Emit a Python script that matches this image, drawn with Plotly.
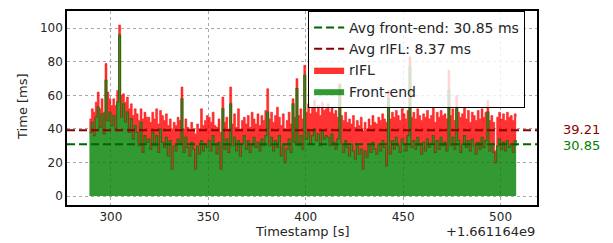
import plotly.graph_objects as go

# ---- data ----
TS_OFFSET_LABEL = "+1.661164e9"
T_START = 289  # seconds relative to offset, one sample per second
FRONTEND = [
    38, 44, 36, 47, 53, 41, 49, 37, 69, 45, 50, 42,
    48, 40, 56, 96, 47, 55, 44, 50, 38, 46, 34, 42, 38, 30, 44, 26, 36, 32,
    34, 28, 38, 30, 36, 26, 40, 32, 29, 35, 24, 33, 16, 30, 27, 34, 31, 58,
    26, 35, 29, 24, 32, 28, 16, 30, 25, 33, 27, 31, 29,
    33, 27, 36, 30, 25, 32, 16, 52, 28, 34, 26, 55, 30, 35, 27, 33, 24, 31,
    36, 28, 33, 26, 30, 35, 29, 32, 27, 34, 30, 36,
    50, 30, 35, 27, 33, 29, 36, 24, 31, 20, 28, 34, 26, 55, 32, 64, 30, 36,
    28, 72, 34, 38, 31, 36, 40, 33, 37, 30, 39, 34, 36,
    35, 30, 37, 32, 28, 34, 66, 31, 26, 33, 29, 24, 31, 27, 22, 30, 25, 28,
    16, 27, 23, 30, 26, 32, 28, 25, 31, 27, 33, 29,
    18, 58, 25, 33, 28, 35, 30, 26, 34, 31, 27, 36, 77, 29, 33, 28, 35, 30,
    25, 32, 27, 34, 29, 31, 36, 26, 33, 28, 35, 30,
    32, 27, 63, 30, 35, 28, 52, 33, 26, 31, 36, 29, 33, 27, 34, 30, 25, 32,
    28, 35, 29, 33, 50, 27, 31, 26, 20, 30, 34, 28, 32, 27, 33, 29, 31, 26,
    33, 30,
]
RIFL = [
    8, 8, 14, 9, 9, 11, 9, 13, 10, 17, 8, 12,
    10, 14, 7, 6, 13, 6, 12, 9, 14, 9, 14, 10, 11, 15, 8, 20, 14, 15,
    13, 16, 12, 16, 16, 17, 11, 16, 16, 14, 18, 13, 24, 14, 15, 13, 14, 7,
    14, 11, 12, 15, 12, 12, 21, 13, 15, 19, 15, 14, 19,
    14, 17, 14, 12, 16, 14, 22, 7, 16, 13, 14, 10, 13, 14, 14, 19, 16, 14,
    11, 15, 15, 15, 20, 11, 14, 17, 15, 14, 15, 15,
    14, 16, 15, 17, 15, 24, 11, 18, 18, 20, 17, 16, 17, 3, 15, 6, 18, 16,
    18, 6, 16, 17, 18, 17, 17, 17, 17, 18, 17, 17, 16,
    20, 20, 16, 17, 23, 13, 1, 17, 19, 17, 15, 22, 12, 21, 19, 15, 17, 19,
    23, 17, 17, 16, 16, 16, 16, 18, 16, 18, 16, 17,
    26, 5, 21, 17, 19, 16, 18, 19, 18, 18, 19, 15, 6, 18, 17, 18, 17, 18,
    20, 17, 20, 17, 17, 17, 17, 18, 17, 19, 16, 18,
    17, 19, 12, 18, 17, 17, 8, 17, 21, 18, 17, 17, 18, 17, 16, 18, 20, 19,
    18, 17, 18, 17, 7, 18, 17, 18, 7, 17, 16, 18, 17, 18, 17, 18, 17, 19,
    16, 17,
]
AVG_FRONTEND = 30.85
AVG_RIFL = 8.37
AVG_TOTAL = 39.21
X_RANGE = [277.5, 518.7]
Y_RANGE = [-5.3, 110.3]
Y_TICKS = [0, 20, 40, 60, 80, 100]
X_TICKS = [300, 350, 400, 450, 500]

n = min(len(FRONTEND), len(RIFL))
ts = [T_START + i for i in range(n)]
FRONTEND = FRONTEND[:n]
RIFL = RIFL[:n]

GREEN_FILL = "rgba(0,128,0,0.8)"
RED_FILL = "rgba(255,0,0,0.8)"
OLIVE = "rgba(45,95,0,0.85)"
TXT = "#262626"
FONT = "DejaVu Sans"

fig = go.Figure()
fig.add_trace(go.Scatter(
    x=ts, y=FRONTEND, stackgroup="s", name="Front-end", mode="lines",
    line=dict(color=GREEN_FILL, width=0, shape="hv"), fillcolor=GREEN_FILL,
    legendrank=4))
fig.add_trace(go.Scatter(
    x=ts, y=RIFL, stackgroup="s", name="rIFL", mode="lines",
    line=dict(color=RED_FILL, width=0.6, shape="hv"), fillcolor=RED_FILL,
    legendrank=3))
fig.add_trace(go.Scatter(
    x=ts, y=FRONTEND, mode="lines", showlegend=False, hoverinfo="skip",
    line=dict(color=OLIVE, width=1.2, shape="hv")))
fig.add_trace(go.Scatter(
    x=X_RANGE, y=[AVG_FRONTEND, AVG_FRONTEND], mode="lines",
    name=f"Avg front-end: {AVG_FRONTEND:.2f} ms",
    line=dict(color="#006400", width=2, dash="8px,4px"), legendrank=1))
fig.add_trace(go.Scatter(
    x=X_RANGE, y=[AVG_TOTAL, AVG_TOTAL], mode="lines",
    name=f"Avg rIFL: {AVG_RIFL:.2f} ms",
    line=dict(color="#8b0000", width=2, dash="8px,4px"), legendrank=2))

axis_common = dict(
    showgrid=True, gridcolor="#a8a8a8", griddash="3px,3px", gridwidth=1,
    showline=True, linecolor="black", linewidth=1.5, mirror=True,
    ticks="", zeroline=False,
    tickfont=dict(family=FONT, size=12, color=TXT),
)
fig.update_xaxes(range=X_RANGE, tickvals=X_TICKS, **axis_common)
fig.update_yaxes(range=Y_RANGE, tickvals=Y_TICKS, **axis_common)

# the page body has an 8px margin: figure is 605x235 so it fits the window
fig.update_layout(
    width=605, height=235,
    margin=dict(l=59, r=76, t=1, b=38),
    paper_bgcolor="white", plot_bgcolor="white",
    font=dict(family=FONT, size=12, color=TXT),
    showlegend=True,
    legend=dict(
        x=0.513, y=1.0, xanchor="left", yanchor="top",
        bgcolor="rgba(255,255,255,0.8)", bordercolor="black", borderwidth=1,
        font=dict(family=FONT, size=14, color=TXT),
        traceorder="normal", tracegroupgap=0, itemwidth=30,
    ),
    annotations=[
        dict(text="Timestamp [s]", xref="paper", yref="paper", x=0.5, y=-0.138,
             xanchor="center", yanchor="middle", showarrow=False,
             font=dict(family=FONT, size=13, color=TXT)),
        dict(text=TS_OFFSET_LABEL, xref="paper", yref="paper", x=1.0, y=-0.138,
             xanchor="right", yanchor="middle", showarrow=False,
             font=dict(family=FONT, size=13, color=TXT)),
        dict(text="Time [ms]", xref="paper", yref="paper", x=-0.096, y=0.51,
             xanchor="center", yanchor="middle", textangle=-90, showarrow=False,
             font=dict(family=FONT, size=13, color=TXT)),
        dict(text=f"{AVG_TOTAL:.2f}", xref="paper", yref="y", x=1.0, y=AVG_TOTAL,
             xshift=24, yshift=1, xanchor="left", yanchor="middle", showarrow=False,
             font=dict(family=FONT, size=13, color="#8b0000")),
        dict(text=f"{AVG_FRONTEND:.2f}", xref="paper", yref="y", x=1.0, y=AVG_FRONTEND,
             xshift=24, yshift=-1, xanchor="left", yanchor="middle", showarrow=False,
             font=dict(family=FONT, size=13, color="green")),
    ],
)

fig.write_html("out.html")
